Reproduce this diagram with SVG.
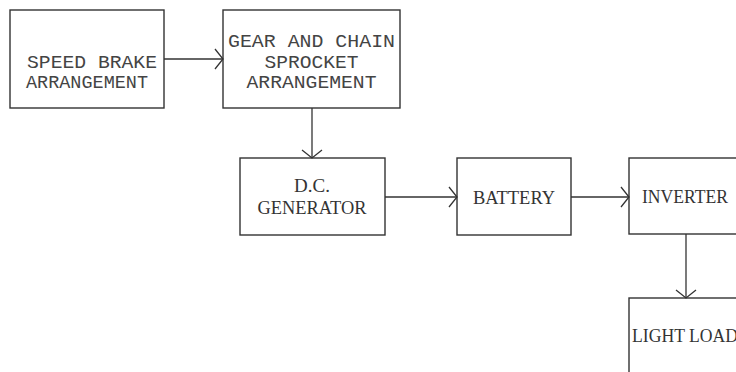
<svg xmlns="http://www.w3.org/2000/svg" width="736" height="372" viewBox="0 0 736 372">
<style>
.box{fill:#fff;stroke:#333;stroke-width:1.4}
.ln{fill:none;stroke:#333;stroke-width:1.3}
.m{font-family:"Liberation Mono","DejaVu Sans Mono",monospace;font-size:19px;fill:#444;text-anchor:middle}
.s{font-family:"Liberation Serif","DejaVu Serif",serif;font-size:19px;fill:#333;text-anchor:middle}
</style>
<defs>
<marker id="ah" markerUnits="userSpaceOnUse" markerWidth="20" markerHeight="24" refX="10" refY="12" orient="auto" overflow="visible">
<path d="M2,2 L10,12 L2,22" fill="none" stroke="#333" stroke-width="1.3"/>
</marker>
</defs>
<rect width="736" height="372" fill="#fff"/>
<g id="n1"><rect class="box" x="10" y="10" width="154" height="98"/>
<text class="m" x="92" y="68" textLength="130" lengthAdjust="spacingAndGlyphs">SPEED BRAKE</text>
<text class="m" x="87" y="88" textLength="122" lengthAdjust="spacingAndGlyphs">ARRANGEMENT</text></g>
<g id="n2"><rect class="box" x="223" y="10" width="177" height="98"/>
<text class="m" x="311.5" y="47" textLength="167" lengthAdjust="spacingAndGlyphs">GEAR AND CHAIN</text>
<text class="m" x="311.5" y="68" textLength="94" lengthAdjust="spacingAndGlyphs">SPROCKET</text>
<text class="m" x="311.5" y="88" textLength="130" lengthAdjust="spacingAndGlyphs">ARRANGEMENT</text></g>
<g id="n3"><rect class="box" x="240" y="158" width="145" height="77"/>
<text class="s" x="312" y="192">D.C.</text>
<text class="s" x="312" y="214" textLength="109" lengthAdjust="spacingAndGlyphs">GENERATOR</text></g>
<g id="n4"><rect class="box" x="457" y="158" width="114" height="77"/>
<text class="s" x="514" y="204" textLength="82" lengthAdjust="spacingAndGlyphs">BATTERY</text></g>
<g id="n5"><rect class="box" x="629" y="158" width="200" height="76"/>
<text class="s" x="685" y="203" textLength="86" lengthAdjust="spacingAndGlyphs">INVERTER</text></g>
<g id="n6"><rect class="box" x="629" y="298" width="200" height="200"/>
<text class="s" x="632" y="342" style="text-anchor:start" textLength="106" lengthAdjust="spacingAndGlyphs">LIGHT LOAD</text></g>
<g id="connectors">
<path class="ln" d="M164,59 H223" marker-end="url(#ah)"/>
<path class="ln" d="M312,108 V158" marker-end="url(#ah)"/>
<path class="ln" d="M385,197 H457" marker-end="url(#ah)"/>
<path class="ln" d="M571,197 H629" marker-end="url(#ah)"/>
<path class="ln" d="M686,234 V298" marker-end="url(#ah)"/>
</g>
</svg>
